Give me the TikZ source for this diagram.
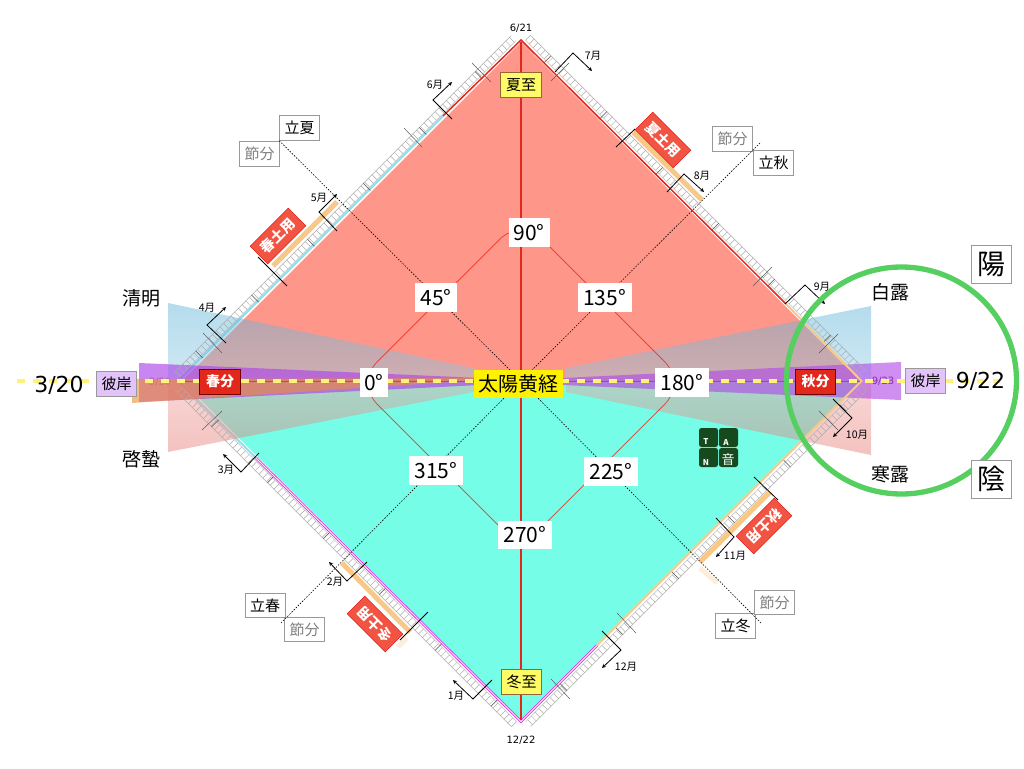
\documentclass[tikz,border=0pt]{standalone}
\usepackage{fontspec}
\setmainfont{Noto Sans CJK JP}
\newfontfamily\latinfont{DejaVu Sans}
\usetikzlibrary{arrows}
\definecolor{summerfill}{HTML}{FF968A}
\definecolor{winterfill}{HTML}{76FDE8}
\definecolor{wedgeblue}{HTML}{5AB1D7}
\definecolor{wedgepink}{HTML}{E57873}
\definecolor{bandpurple}{HTML}{AD45E8}
\definecolor{bandorange}{HTML}{F09030}
\definecolor{dayyellow}{HTML}{FFF27A}
\definecolor{redline}{HTML}{E2281A}
\definecolor{stripcyan}{HTML}{8FE3F0}
\definecolor{doyoorange}{HTML}{F8C888}
\definecolor{doyored}{HTML}{F25443}
\definecolor{higanlilac}{HTML}{E2C4FA}
\definecolor{circlegreen}{HTML}{55D060}
\definecolor{logogreen}{HTML}{16491E}
\definecolor{solsyellow}{HTML}{FFFB66}
\definecolor{seamagenta}{HTML}{D83CE8}
\newcommand{\sz}[1]{\fontsize{#1}{#1}\selectfont}
\tikzset{
	termbox/.style={draw=gray!80,fill=white,line width=.7pt,minimum width=40pt,minimum height=24.5pt,inner sep=0pt,font=\sz{15}},
	setsubox/.style={termbox,text=gray},
	higanbox/.style={termbox,fill=higanlilac},
	redbox/.style={draw=red!45!black,fill=redline,text=white,line width=.7pt,minimum width=40.5pt,minimum height=25pt,inner sep=0pt,font=\bfseries\sz{14}},
	solsbox/.style={draw=brown!80!black,fill=solsyellow,line width=.7pt,minimum width=40.5pt,minimum height=25pt,inner sep=0pt,font=\sz{15}},
	doyobox/.style={draw=red!85!black,fill=doyored,text=white,line width=.4pt,minimum width=54pt,minimum height=25pt,inner sep=0pt,font=\bfseries\sz{14}},
	degbox/.style={fill=white,minimum height=28.5pt,inner sep=0pt,font=\sz{21}},
	bigdate/.style={font=\latinfont\sz{22},inner sep=0pt},
	smalldate/.style={font=\latinfont\sz{10},inner sep=0pt},
	kigo/.style={font=\sz{19},inner sep=0pt},
	yinyang/.style={draw=gray!80,fill=white,line width=.8pt,minimum width=40pt,minimum height=38pt,inner sep=0pt,font=\sz{28}},
	monthline/.style={black,line width=.8pt},
	monthlabel/.style={font=\sz{10.5},inner sep=0pt},
	crossline/.style={gray!70!black,line width=.5pt},
	gridline/.style={gray!65,line width=.5pt},
	dotline/.style={black,line width=.6pt,dash pattern=on 1.5pt off 1.5pt},
	doyostrip/.style={doyoorange,line width=5pt},
	logotile/.style={fill=logogreen,rounded corners=2.5pt,minimum size=19pt,inner sep=0pt},
	logotext/.style={white,font=\bfseries\sz{8},inner sep=0pt},
	pics/ladder/.style={code={
			\draw[gridline] (2,-4.5) -- (477,-4.5) (2,-11.5) -- (477,-11.5);
			\foreach \i in {0,...,90}
				\draw[gridline] ({2+\i*5.25},-4.5) -- ({2+\i*5.25},-11.5);
			\foreach \i in {0,...,5}
				\draw[gray!60!black,line width=.5pt] ({31+\i*79},-1.5) -- ({31+\i*79},-11.5);
	}}
}
\begin{document}
\begin{tikzpicture}[x=1pt,y=-1pt,>=stealth]
	\useasboundingbox (0,0) rectangle (1024,768);
	\coordinate (sun) at (521,381);
	\coordinate (qiuend) at (760,143);
	\coordinate (dongend) at (761,623);
	\coordinate (chunend) at (281,623);
	% the eight season boxes come first
	\node[termbox] (lixia) at (299.5,128) {立夏};
	\node[setsubox] (setsuA) at (259.5,154) {節分};
	\node[termbox] (liqiu) at (773.5,163) {立秋};
	\node[setsubox] (setsuB) at (732.5,139) {節分};
	\node[termbox] (lichun) at (265,605.5) {立春};
	\node[setsubox] (setsuC) at (304.5,629.5) {節分};
	\node[termbox] (lidong) at (735.5,626) {立冬};
	\node[setsubox] (setsuD) at (774.5,602.5) {節分};
	% fills
	\fill[summerfill] (521,42) -- (860,381) -- (182,381) -- cycle;
	\fill[winterfill] (182,381) -- (860,381) -- (521,720) -- cycle;
	\node[smalldate,text=gray] (dateL) at (160,382) {3/20};
	\node[smalldate,text=violet!70!black] (dateR) at (883,381.5) {9/23};
	\draw[stripcyan,line width=2.2pt] (443,116) -- (180,379);
	\draw[stripcyan,line width=2.2pt] (180,383) -- (256,458);
	% wedges
	\shade[top color=wedgeblue,bottom color=wedgeblue!65!white,fill opacity=.45] (168,303) -- (168,381) -- (478,381) -- (478,369) -- cycle;
	\shade[top color=wedgeblue,bottom color=wedgeblue!65!white,fill opacity=.45] (871,306) -- (871,381) -- (566,381) -- (566,368) -- cycle;
	\shade[bottom color=wedgepink,top color=wedgepink!65!white,fill opacity=.45] (168,452) -- (168,381) -- (478,381) -- (478,391) -- cycle;
	\shade[bottom color=wedgepink,top color=wedgepink!65!white,fill opacity=.45] (871,455) -- (871,381) -- (566,381) -- (566,392) -- cycle;
	\fill[bandpurple,fill opacity=.65] (139,363) -- (139,402) -- (480,385) -- (480,378) -- cycle;
	\fill[bandpurple,fill opacity=.6] (901,362) -- (901,400) -- (562,385) -- (562,378) -- cycle;
	\fill[bandorange,fill opacity=.6] (132,379) -- (132,403) -- (480,380) -- (480,378) -- cycle;
	% strips and edges
	\pic[rotate=-45] at (521,42) {ladder};
	\pic[rotate=-135] at (860,381) {ladder};
	\pic[rotate=135] at (521,720) {ladder};
	\pic[rotate=45] at (182,381) {ladder};
	\draw[redline,line width=1.5pt] (443,116) -- (521,40) -- (786,304);
	\draw[doyoorange,line width=2pt] (786,304) -- (861.5,381) -- (597,645.5);
	\draw[seamagenta,double=pink!30,double distance=.9pt,line width=.9pt] (597,645.5) -- (521,721.5) -- (256,458);
	\draw[doyostrip] (337,202) -- (273,266);
	\draw[doyostrip] (633,132) -- (702,200);
	\draw[doyostrip] (770,492) -- (700,562);
	\draw[doyostrip] (342,563) -- (410,632);
	\draw[doyostrip,opacity=.3] (700,568) -- (717,583);
	\draw[doyostrip,opacity=.3] (407,638) -- (398,647);
	\foreach \xa/\ya/\xb/\yb in {203/333/222/353,202/430/222/411,472/63/491/82,551/81/569/63,404/128/422/147,753/286/772/267,819/353/838/334,819/411/838/430,617/613/636/633,551/679/570/699}
		\draw[crossline] (\xa,\ya) -- (\xb,\yb);
	% center lines
	\draw[redline,line width=1.5pt] (521,42) -- (521,720);
	\draw[redline,line width=1pt,opacity=.7] (182,381) -- (860,381);
	\draw[dayyellow,line width=3.5pt,dash pattern=on 8pt off 8pt] (17,381) -- (1000,381);
	\draw[redline,opacity=.75,line width=.8pt,rounded corners=30pt] (521,218) -- (686,383) -- (521,548) -- (356,383) -- cycle;
	\draw[dotline] (lixia.south west) -- (sun);
	\draw[dotline] (qiuend) -- (sun);
	\draw[dotline] (dongend) -- (sun);
	\draw[dotline] (chunend) -- (sun);
	% months
	\foreach \xa/\ya/\xb/\yb/\xc/\yc/\xd/\yd/\mon in {452/119/433/100/452/82/435/85/6,555/72/573/53/592/71/593/56/7,667/192/684/174/704/192/702/176/8,785/304/805/285/825/304/822/287/9,833/399/852/418/833/437/857/435/10,716/518/734/537/716/557/735/556/11,602/631/621/650/602/668/626/667/12,492/680/473/699/453/680/456/696/1,367/562/347/581/329/562/335/582/2,259/453/241/472/223/454/226/470/3,226/343/207/325/226/307/207/308/4,337/231/319/212/337/194/319/198/5}{
		\draw[monthline,->] (\xa,\ya) -- (\xb,\yb) -- (\xc,\yc);
		\node[monthlabel] (m\mon) at (\xd,\yd) {\mon 月};
	}
	\draw[monthline] (287,286) -- (258,257);
	\draw[monthline] (616,147) -- (635,129);
	\draw[monthline] (754,477) -- (778,500);
	\draw[monthline] (428,612) -- (400,640);
	% boxes on top
	\node[doyobox,rotate=45] (chundoyo) at (278,236) {春土用};
	\node[doyobox,rotate=-45] (xiadoyo) at (663,140) {夏土用};
	\node[doyobox,rotate=225] (qiudoyo) at (764,526) {秋土用};
	\node[doyobox,rotate=135] (dongdoyo) at (375,624) {冬土用};
	\node[solsbox] (xiazhi) at (521,85) {夏至};
	\node[solsbox] (dongzhi) at (521.5,682) {冬至};
	\node[redbox] (chunfen) at (220,381.5) {春分};
	\node[redbox] (qiufen) at (815.5,381.5) {秋分};
	\node[higanbox] (higanL) at (116.5,384) {彼岸};
	\node[higanbox] (higanR) at (925.5,381) {彼岸};
	\node[bigdate] (dateA) at (59,385) {3/20};
	\node[bigdate] (dateB) at (980.5,381) {9/22};
	\foreach \nm/\xx/\yy/\bw/\dg in {d0/374/382.5/28/0,d45/436/297.5/42/45,d90/529/232.5/41/90,d135/604.5/297.5/54/135,d180/682/382.5/54/180,d225/611/471.5/54/225,d270/525/535/54/270,d315/436/470.5/54/315}
		\node[degbox,minimum width=\bw pt] (\nm) at (\xx,\yy) {\dg°};
	\node[fill=yellow,minimum width=88.5pt,minimum height=28pt,inner sep=0pt,font=\sz{20}] (taiyo) at (518.5,383.5) {太陽黄経};
	\node[kigo] (qingming) at (141.5,298) {清明};
	\node[kigo] (keichitsu) at (141.5,459) {啓蟄};
	\node[kigo] (hakuro) at (890,292) {白露};
	\node[kigo] (kanro) at (890,474) {寒露};
	\draw[circlegreen,line width=5.3pt] (901.5,380.5) ellipse (115 and 113.5);
	\node[yinyang] (yang) at (991.5,264) {陽};
	\node[yinyang] (yin) at (991.5,479) {陰};
	\node[smalldate] (summer) at (521,28) {6/21};
	\node[smalldate] (winter) at (521,740) {12/22};
	% logo
	\foreach \xx/\yy/\tl in {708.5/437.5/a,728.5/437.5/b,708.5/457.5/c,728.5/457.5/d}
		\node[logotile] (tile\tl) at (\xx,\yy) {};
	\node[logotext] (logoT) at (706,442) {T};
	\node[logotext] (logoA) at (726,443) {A};
	\node[logotext] (logoN) at (706,463) {N};
	\node[logotext,font=\sz{13}] (logoS) at (728,460) {音};
\end{tikzpicture}
\end{document}
